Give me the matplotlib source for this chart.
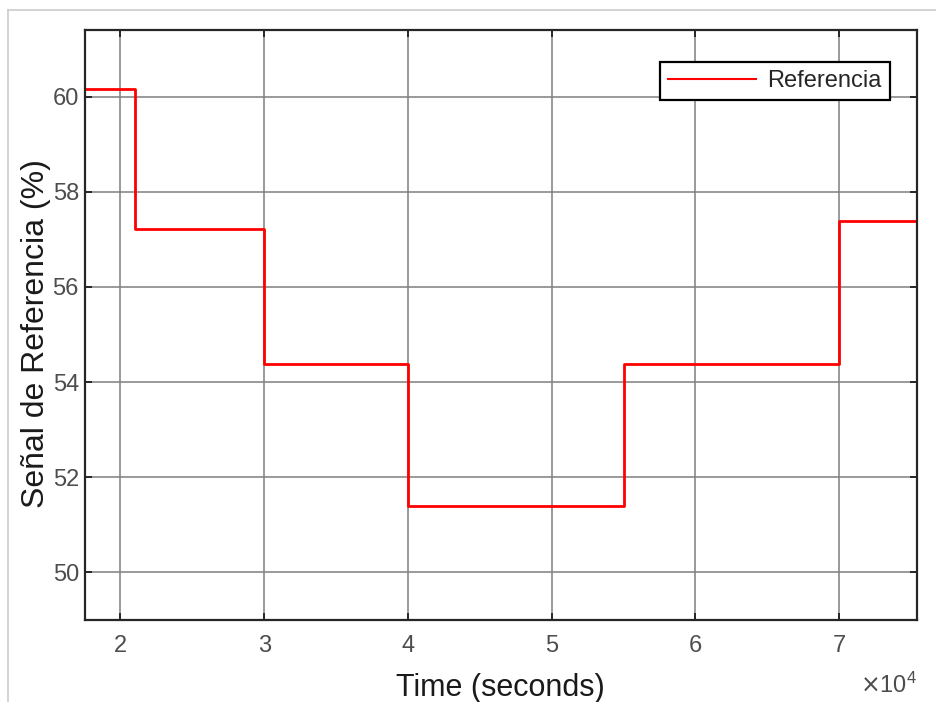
import matplotlib.pyplot as plt
from matplotlib.lines import Line2D

#=========== general settings ============================#
plt.rcParams['font.family'] = ['Liberation Sans', 'DejaVu Sans']
plt.rcParams['xtick.direction'] = 'in'
plt.rcParams['ytick.direction'] = 'in'
plt.rcParams['xtick.top'] = True
plt.rcParams['ytick.right'] = True
plt.rcParams['axes.linewidth'] = 1.6
#==========================================================#

# step reference signal (time in seconds, value in %)
t_sec = [17500, 21000, 30000, 40000, 55000, 70000, 75400]
ref_pct = [60.17, 57.21, 54.37, 51.40, 54.37, 57.38, 57.38]

xticks = [20000, 30000, 40000, 50000, 60000, 70000]
xtick_labels = ["2", "3", "4", "5", "6", "7"]
yticks = [50, 52, 54, 56, 58, 60]

fig = plt.figure(figsize=(9.36, 7.02), dpi=100)
ax = fig.add_axes([0.0903, 0.1168, 0.8891, 0.8405])

ax.plot(t_sec, ref_pct, drawstyle="steps-post", color="#ff0000", lw=2.0, label="Referencia")

ax.set_xlim(17500, 75400)
ax.set_ylim(49.0, 61.4)
ax.set_xticks(xticks)
ax.set_xticklabels(xtick_labels)
ax.set_yticks(yticks)

ax.grid(True, color="#808080", lw=1.4, alpha=0.8)
ax.set_axisbelow(True)
ax.tick_params(which="both", length=5, width=1.4, color="#262626",
               labelsize=17, labelcolor="#4d4d4d")
ax.tick_params(axis="x", pad=11)
ax.tick_params(axis="y", pad=4)
for sp in ax.spines.values():
    sp.set_color("#262626")

ax.set_xlabel("Time (seconds)", fontsize=22, color="#1a1a1a")
ax.set_ylabel("Señal de Referencia (%)", fontsize=23, color="#1a1a1a")
ax.xaxis.set_label_coords(0.5, -0.09)
ax.yaxis.set_label_coords(-0.04, 0.485)
ax.text(1.0, -0.11, r"$\times\mathregular{10^4}$", transform=ax.transAxes,
        ha="right", va="center", fontsize=17, color="#4d4d4d")

leg = ax.legend(loc="upper right", bbox_to_anchor=(0.968, 0.946), borderaxespad=0,
                fontsize=17, fancybox=False, framealpha=1, edgecolor="black",
                handlelength=3.7, borderpad=0.35, handletextpad=0.5)
leg.get_frame().set_linewidth(1.6)
leg.get_lines()[0].set_linewidth(1.5)
for txt in leg.get_texts():
    txt.set_color("#262626")

# light frame around the figure
fig.add_artist(Line2D([8 / 936, 1], [1 - 10 / 702] * 2, color="#cccccc", lw=1.2))
fig.add_artist(Line2D([8 / 936] * 2, [0, 1 - 10 / 702], color="#cccccc", lw=1.2))

fig.savefig("out.png", dpi=100)
plt.close(fig)
